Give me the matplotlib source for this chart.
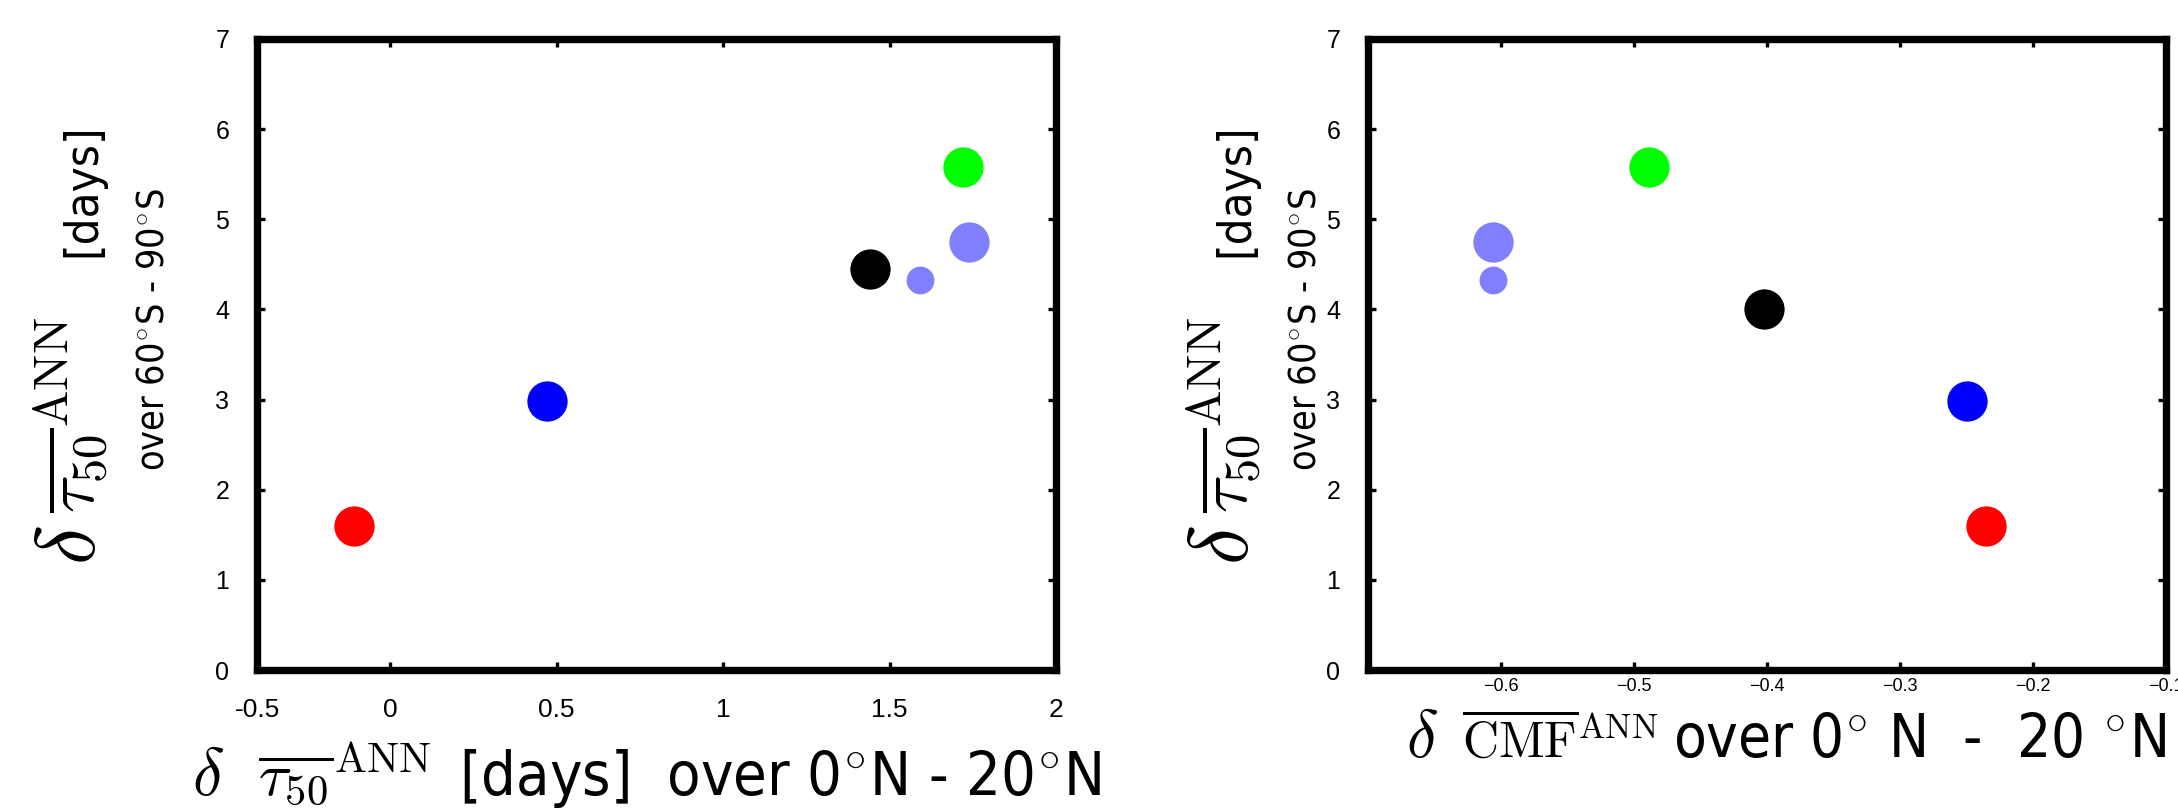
import matplotlib
matplotlib.use('Agg')
import matplotlib.pyplot as plt
from matplotlib import font_manager as fm
from matplotlib.font_manager import FontProperties

plt.rcParams['mathtext.fontset'] = 'cm'

# data (one entry per model)
colors = ['#ff0000', '#0000ff', '#8080ff', '#8080ff', '#00ff00', '#000000']
sizes = [29, 29, 20, 29, 29, 29]
tau_tropics = [-0.11, 0.47, 1.59, 1.74, 1.72, 1.44]
tau_south_left = [1.6, 2.98, 4.33, 4.75, 5.58, 4.45]
cmf_tropics = [-0.235, -0.25, -0.606, -0.606, -0.489, -0.402]
tau_south_right = [1.6, 2.98, 4.33, 4.75, 5.58, 4.01]

# axis ticks
x1_lim = (-0.4, 2.0)
x1_ticks = [-0.4, 0, 0.5, 1, 1.5, 2]
x1_labels = ['-0.5', '0', '0.5', '1', '1.5', '2']
x2_lim = (-0.7, -0.1)
x2_ticks = [-0.6, -0.5, -0.4, -0.3, -0.2, -0.1]
x2_labels = ['\u22120.6', '\u22120.5', '\u22120.4', '\u22120.3', '\u22120.2', '\u22120.1']
y_ticks = [0, 1, 2, 3, 4, 5, 6, 7]


# narrow font for the labels, whatever is installed
def narrow_font():
    names = [(f.name, f.stretch) for f in fm.fontManager.ttflist]
    if any(n == 'Liberation Sans Narrow' for n, s in names):
        return 'Liberation Sans Narrow', 'normal'
    if any(n == 'DejaVu Sans' and s == 'condensed' for n, s in names):
        return 'DejaVu Sans', 'condensed'
    return 'Liberation Sans', 'normal'


FAM, STRETCH = narrow_font()

W, H = 2178, 808
fig = plt.figure(figsize=(W / 100, H / 100), dpi=100)

ax1 = fig.add_axes([257 / W, 1 - 670 / H, (1056 - 257) / W, (670 - 39) / H])
ax2 = fig.add_axes([1368 / W, 1 - 670 / H, (2166 - 1368) / W, (670 - 39) / H])

for x, y, c, s in zip(tau_tropics, tau_south_left, colors, sizes):
    ax1.plot(x, y, 'o', ms=s, color=c, mec='none')
for x, y, c, s in zip(cmf_tropics, tau_south_right, colors, sizes):
    ax2.plot(x, y, 'o', ms=s, color=c, mec='none')

for ax in (ax1, ax2):
    ax.set_ylim(0, 7)
    ax.set_yticks(y_ticks)
    ax.tick_params(direction='in', length=6, width=2.4, top=True, right=True)
    ax.tick_params(axis='y', labelsize=18, pad=20)
    for t in ax.get_yticklabels():
        t.set_family('Liberation Sans')
    for sp in ax.spines.values():
        sp.set_linewidth(5.3)

ax1.set_xlim(*x1_lim)
ax1.set_xticks(x1_ticks)
ax1.set_xticklabels(x1_labels, family='Liberation Sans')
ax1.tick_params(axis='x', labelsize=19, pad=20)

ax2.set_xlim(*x2_lim)
ax2.set_xticks(x2_ticks)
ax2.set_xticklabels(x2_labels, family='Liberation Sans')
ax2.tick_params(axis='x', labelsize=13, pad=6)


# put pieces of text of different sizes one after another
# pieces: (text, fontsize, gap in pixels after it)
def place(pieces, x, y, rotation=0):
    texts = []
    for s, size, gap in pieces:
        fp = FontProperties(family=FAM, stretch=STRETCH, size=size)
        texts.append(fig.text(0, 0, s, fontproperties=fp, rotation=rotation,
                              rotation_mode='anchor', ha='left', va='baseline'))
    fig.canvas.draw()
    r = fig.canvas.get_renderer()
    lens = []
    for t, p in zip(texts, pieces):
        bb = t.get_window_extent(r)
        lens.append((bb.width if rotation == 0 else bb.height) + p[2])
    pos = -sum(lens) / 2
    for t, L in zip(texts, lens):
        if rotation == 0:
            t.set_position(((x + pos) / W, (H - y) / H))
        else:
            t.set_position((x / W, (H - y + pos) / H))
        pos += L


place([(r'$\delta$', 48, 34),
       (r'$\overline{\tau_{50}}^{\mathrm{ANN}}$', 44, 28),
       ('[days]  over 0$^{\\circ}$N - 20$^{\\circ}$N', 44, 0)], 647, 795)
place([(r'$\delta$', 48, 24),
       (r'$\overline{\mathrm{CMF}}^{\mathrm{ANN}}$', 36, 14),
       ('over 0$^{\\circ}$ N  -  20 $^{\\circ}$N', 43, 0)], 1786, 757)

for dx in (0, 1153):
    place([(r'$\delta$', 60, 12),
           (r'$\overline{\tau_{50}}^{\mathrm{ANN}}$', 50, 60),
           ('[days]', 34, 0)], 95 + dx, 344, rotation=90)
    place([('over 60$^{\\circ}$S - 90$^{\\circ}$S', 27, 0)], 163 + dx, 330, rotation=90)

fig.savefig('out.png', dpi=100)
